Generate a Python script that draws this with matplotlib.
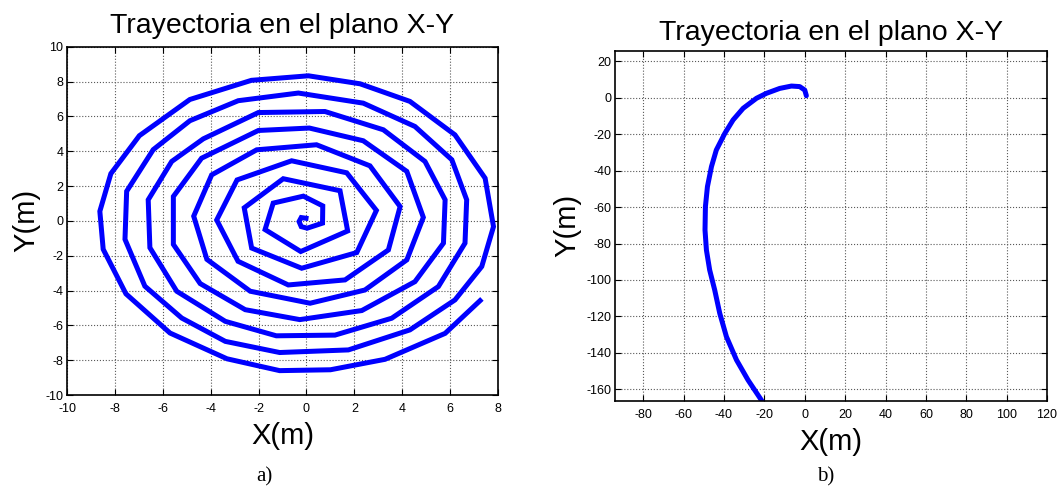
import numpy as np
import matplotlib
matplotlib.use("Agg")
import matplotlib.pyplot as plt

plt.rcParams['font.family'] = ['Liberation Sans', 'DejaVu Sans']
plt.rcParams['axes.unicode_minus'] = False

# a) spiral trajectory, vertices (from centre outwards)
xa = [-0.02, -0.22, -0.31, -0.22, 0.03, 0.67, 0.68, -0.13, -1.39, -1.73, -0.24, 1.72,
      1.40, -0.97, -2.60, -2.29, -0.20, 2.10, 2.92, 1.68, -0.62, -2.90, -3.75, -2.86,
      -0.76, 1.61, 3.42, 3.91, 2.65, 0.42, -2.08, -3.96, -4.71, -4.16, -2.35, 0.15,
      2.44, 4.19, 4.88, 4.19, 2.37, 0.12, -2.01, -4.38, -5.56, -5.56, -4.44, -2.56,
      -0.28, 2.31, 4.53, 5.72, 5.79, 4.95, 3.21, 0.77, -2.01, -4.31, -5.63, -6.61,
      -6.54, -5.42, -3.39, -1.26, 1.19, 3.56, 5.51, 6.62, 6.69, 6.07, 4.53, 2.37,
      -0.34, -2.85, -4.87, -6.40, -7.51, -7.58, -6.75, -5.21, -3.39, -1.12, 1.75,
      4.32, 6.20, 7.32, 7.81, 7.46, 6.20, 4.32, 2.24, 0.08, -2.30, -4.87, -6.98,
      -8.17, -8.63, -8.49, -7.54, -5.70, -3.32, -1.12, 1.00, 3.28, 5.79, 7.25]
ya = [0.15, 0.19, -0.04, -0.33, -0.42, -0.13, 0.86, 1.42, 1.02, -0.50, -1.76, -0.58,
      1.73, 2.42, 0.75, -1.56, -2.72, -1.82, 0.60, 2.76, 3.45, 2.35, 0.05, -2.32,
      -3.68, -3.39, -1.67, 0.82, 3.16, 4.37, 4.08, 2.64, 0.27, -2.21, -4.04, -4.73,
      -3.97, -2.24, 0.20, 2.84, 4.60, 5.33, 5.19, 3.60, 1.40, -1.35, -3.60, -5.10,
      -5.67, -5.15, -3.49, -1.28, 1.21, 3.41, 5.23, 6.28, 6.22, 4.71, 3.41, 1.21,
      -1.54, -4.04, -5.77, -6.60, -6.56, -5.59, -3.77, -1.28, 1.21, 3.51, 5.42, 6.76,
      7.34, 6.90, 5.75, 4.09, 1.70, -1.06, -3.75, -5.58, -6.92, -7.56, -7.41,
      -6.26, -4.54, -2.62, -0.33, 2.45, 4.94, 6.86, 7.87, 8.33, 8.07, 6.97, 4.89,
      2.71, 0.55, -1.63, -4.19, -6.44, -7.92, -8.60, -8.55, -7.95, -6.46, -4.58]

# b) curved trajectory
xb = [0.8, 0.0, -2.5, -6.6, -12.4, -19.0, -23.9, -30.5, -35.5, -39.6, -43.8, -46.2,
      -48.2, -49.2, -49.4, -48.7, -47.1, -44.6, -42.1, -38.8, -33.8, -28.1, -21.5, -20.6]
yb = [1.1, 4.2, 6.1, 6.4, 5.1, 2.4, -0.3, -5.8, -12.2, -19.6, -28.7, -37.8,
      -48.8, -59.8, -72.6, -83.6, -94.5, -105.5, -118.3, -131.1, -143.9, -154.9, -165.9, -167.5]

title = 'Trayectoria en el plano X-Y'

fig = plt.figure(figsize=(10.59, 4.97), dpi=100)
ax1 = fig.add_axes([0.0633, 0.2052, 0.407, 0.7008])
ax2 = fig.add_axes([0.5807, 0.1932, 0.408, 0.7048])

ax1.plot(xa, ya, color='#0000ff', linewidth=3.6, solid_joinstyle='miter')
ax1.set_xlim(-10, 8)
ax1.set_ylim(-10, 10)
ax1.set_xticks(np.arange(-10, 9, 2))
ax1.set_yticks(np.arange(-10, 11, 2))

ax2.plot(xb, yb, color='#0000ff', linewidth=3.6, solid_capstyle='round')
ax2.set_xlim(-94, 120)
ax2.set_ylim(-166.4, 25.8)
ax2.set_xticks(np.arange(-80, 121, 20))
ax2.set_yticks(np.arange(-160, 21, 20))

for ax, tpad in ((ax1, 9.6), (ax2, 7.7)):
    ax.grid(True, color='0.35', linestyle=':', linewidth=0.8)
    ax.tick_params(direction='in', top=True, right=True, length=4, labelsize=9)
    ax.tick_params(axis='x', pad=5.5)
    ax.tick_params(axis='y', pad=2.5)
    for s in ax.spines.values():
        s.set_linewidth(1.2)
    ax.set_title(title, fontsize=20.5, pad=tpad)
    ax.set_xlabel('X(m)', fontsize=21, labelpad=5)
    ax.set_ylabel('Y(m)', fontsize=21, labelpad=4)

fig.text(0.25, 0.04, 'a)', family=['Liberation Serif'], fontsize=15, ha='center', va='center')
fig.text(0.78, 0.04, 'b)', family=['Liberation Serif'], fontsize=15, ha='center', va='center')

fig.savefig('out.png', dpi=100)
